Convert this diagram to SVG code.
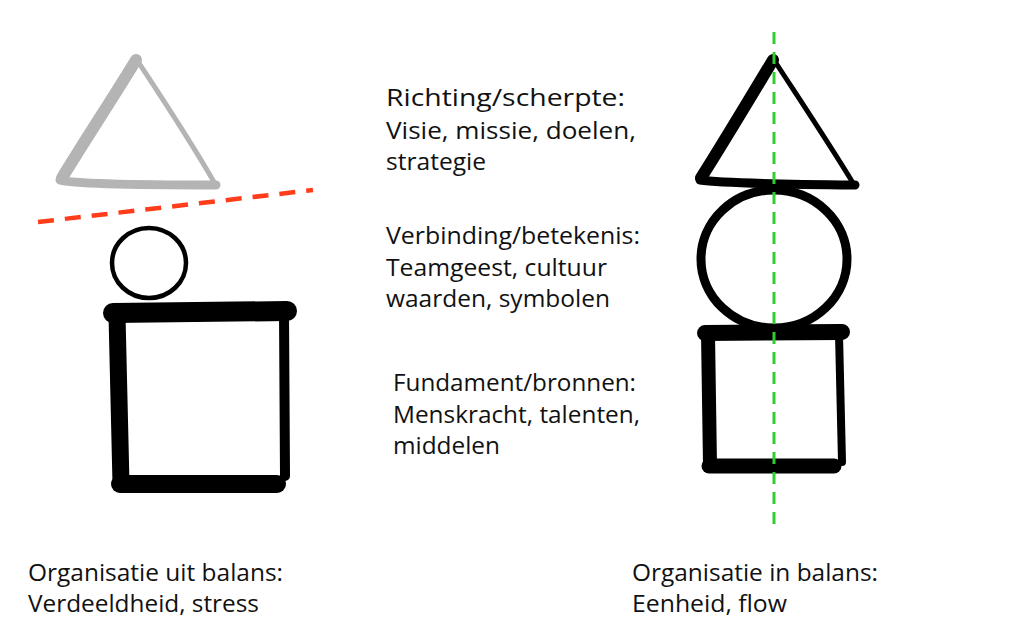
<svg xmlns="http://www.w3.org/2000/svg" width="1030" height="625" viewBox="0 0 1030 625">
<style>
  .t { font-family: "Open Sans", "Liberation Sans", sans-serif; font-size: 23.5px; fill: #111; }
  .b { font-family: "Open Sans", "Liberation Sans", sans-serif; font-size: 23.5px; fill: #111; }
  .ink { stroke: #000; fill: none; stroke-linecap: round; stroke-linejoin: round; }
  .grey { stroke: #b4b4b4; fill: none; stroke-linecap: round; stroke-linejoin: round; }
</style>
<rect width="1030" height="625" fill="#fff"/>

<g id="left-triangle">
  <path class="grey" d="M136,60 C118,90 82,145 62,178" stroke-width="12"/>
  <path class="grey" d="M60,180 C70,183 110,185 216,185" stroke-width="9"/>
  <path class="grey" d="M137,60 C160,95 190,140 214,182" stroke-width="5"/>
</g>

<g id="left-circle">
  <ellipse cx="149" cy="263" rx="37" ry="35" fill="none" stroke="#000" stroke-width="4.5"/>
</g>

<g id="left-square">
  <line class="ink" x1="113" y1="313" x2="287" y2="311" stroke-width="20"/>
  <line class="ink" x1="117" y1="315" x2="121" y2="484" stroke-width="17"/>
  <line class="ink" x1="120" y1="484" x2="277" y2="484" stroke-width="18"/>
  <line class="ink" x1="284" y1="312" x2="285" y2="476" stroke-width="10"/>
</g>

<g id="right-triangle">
  <path class="ink" d="M773,60 C755,90 720,148 701,178" stroke-width="12"/>
  <path class="ink" d="M700,180 C720,183 760,184 855,185" stroke-width="9"/>
  <path class="ink" d="M774,60 C800,100 830,145 853,183" stroke-width="5"/>
</g>

<g id="right-circle">
  <ellipse cx="774" cy="259" rx="73" ry="69" fill="none" stroke="#000" stroke-width="9"/>
</g>

<g id="right-square">
  <line class="ink" x1="705" y1="333" x2="842" y2="332" stroke-width="16"/>
  <line class="ink" x1="708" y1="334" x2="710" y2="465" stroke-width="14"/>
  <line class="ink" x1="709" y1="466" x2="834" y2="466" stroke-width="15"/>
  <line class="ink" x1="839" y1="334" x2="842" y2="462" stroke-width="8"/>
</g>

<g id="connectors">
  <line x1="38" y1="222" x2="313" y2="190" stroke="#ff3d1a" stroke-width="4.5" stroke-dasharray="16 11"/>
  <line x1="774" y1="32" x2="774" y2="528" stroke="#33cc33" stroke-width="3" stroke-dasharray="12 8"/>
</g>

<g id="labels">
  <text class="t" x="386" y="106" textLength="239" lengthAdjust="spacingAndGlyphs">Richting/scherpte:</text>
  <text class="t" x="386" y="139" textLength="250" lengthAdjust="spacingAndGlyphs">Visie, missie, doelen,</text>
  <text class="t" x="386" y="170" textLength="100" lengthAdjust="spacingAndGlyphs">strategie</text>

  <text class="t" x="386" y="244" textLength="254" lengthAdjust="spacingAndGlyphs">Verbinding/betekenis:</text>
  <text class="t" x="386" y="276" textLength="221" lengthAdjust="spacingAndGlyphs">Teamgeest, cultuur</text>
  <text class="t" x="386" y="307" textLength="224" lengthAdjust="spacingAndGlyphs">waarden, symbolen</text>

  <text class="t" x="393" y="391" textLength="243" lengthAdjust="spacingAndGlyphs">Fundament/bronnen:</text>
  <text class="t" x="393" y="423" textLength="247" lengthAdjust="spacingAndGlyphs">Menskracht, talenten,</text>
  <text class="t" x="393" y="454" textLength="107" lengthAdjust="spacingAndGlyphs">middelen</text>

  <text class="b" x="28" y="581" textLength="255" lengthAdjust="spacingAndGlyphs">Organisatie uit balans:</text>
  <text class="b" x="28" y="612" textLength="231" lengthAdjust="spacingAndGlyphs">Verdeeldheid, stress</text>
  <text class="b" x="632" y="581" textLength="246" lengthAdjust="spacingAndGlyphs">Organisatie in balans:</text>
  <text class="b" x="632" y="612" textLength="155" lengthAdjust="spacingAndGlyphs">Eenheid, flow</text>
</g>
</svg>
